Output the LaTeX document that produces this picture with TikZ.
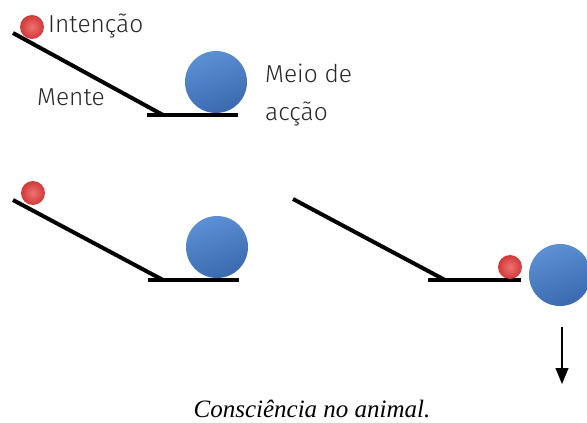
\documentclass[tikz,border=0pt]{standalone}
\usepackage{fontspec}
\setmainfont{Liberation Serif}
\newfontfamily\labelfont{Fira Sans Light}
\usetikzlibrary{arrows.meta}
\definecolor{bluetop}{HTML}{5C90D4}
\definecolor{bluebot}{HTML}{3A69AE}
\definecolor{redin}{HTML}{F07272}
\definecolor{redout}{HTML}{D03838}
\tikzset{
  rail/.style={line width=4pt},
  bigball/.style={circle, minimum size=62pt, inner sep=0pt, top color=bluetop, bottom color=bluebot, shading angle=20},
  smallball/.style={circle, minimum size=24pt, inner sep=0pt, inner color=redin, outer color=redout},
  lbl/.style={font=\labelfont\fontsize{24.5pt}{38pt}\selectfont, text=black!85, inner sep=0pt, anchor=base west, align=left},
}
\begin{document}
\begin{tikzpicture}[x=1pt,y=-1pt]
\useasboundingbox (0,0) rectangle (587,423);
\clip (0,0) rectangle (587,423);
% top panel
\draw[rail] (13,33) -- (163,115);
\draw[rail] (147,115) -- (238,115);
\node[smallball] (r1) at (32,27) {};
\node[bigball] (b1) at (216,82) {};
\node[lbl] (t1) at (48,32) {Intenção};
\node[lbl] (t2) at (37,105) {Mente};
\node[lbl] (t3) at (265,82) {Meio de};
\node[lbl] (t4) at (265,120) {acção};
% middle-left panel
\draw[rail] (13,200) -- (163,280);
\draw[rail] (148,280) -- (239,280);
\node[smallball] (r2) at (33,193) {};
\node[bigball] (b2) at (217,247) {};
% right panel
\draw[rail] (293,199) -- (445,280);
\draw[rail] (428,280) -- (521,280);
\node[smallball] (r3) at (510,267) {};
\node[bigball] (b3) at (560,275) {};
\coordinate (a1) at (562,327);
\coordinate (a2) at (562,384);
\draw[line width=1.3pt, -{Triangle[width=13pt,length=16pt]}] (a1) -- (a2);
% caption
\node[font=\itshape\fontsize{25pt}{28pt}\selectfont, anchor=base] (cap) at (312,417) {Consciência no animal.};
\end{tikzpicture}
\end{document}
